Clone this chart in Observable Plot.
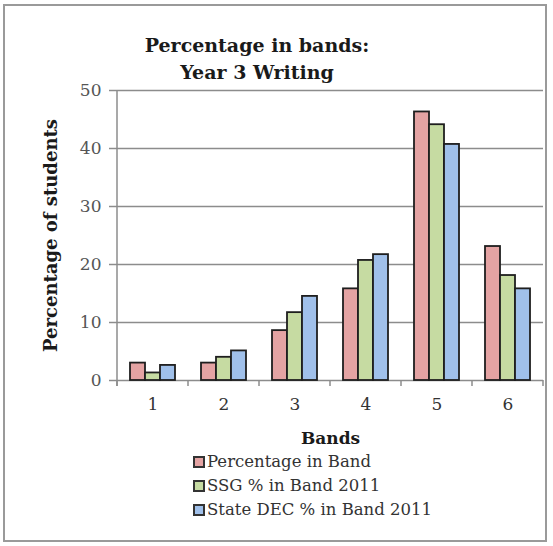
<!DOCTYPE html>
<html>
<head>
<meta charset="utf-8">
<script src="https://cdn.jsdelivr.net/npm/d3@7"></script>
<script src="https://cdn.jsdelivr.net/npm/@observablehq/plot@0.6"></script>
<style>
  html, body { margin: 0; padding: 0; background: #fff; }
  #wrap { position: relative; width: 553px; height: 546px; overflow: hidden; font-family: "DejaVu Serif", serif; }
  #border { position: absolute; left: 3px; top: 4px; width: 544px; height: 538px; border: 2px solid #9a9a9a; box-sizing: border-box; }
  #title { position: absolute; left: 0; top: 32px; width: 514px; text-align: center; font-weight: bold; font-size: 19px; line-height: 27px; color: #1a1a1a; }
  #chart { position: absolute; left: 0; top: 0; }
  #legend { position: absolute; left: 193px; top: 450px; font-size: 16.5px; line-height: 24px; color: #333; }
  .item { display: flex; align-items: center; white-space: nowrap; }
  .sw { width: 8px; height: 8px; border: 2px solid #333; margin-right: 2px; }
</style>
</head>
<body>
<div id="wrap">
  <div id="border"></div>
  <div id="title">Percentage in bands:<br>Year 3 Writing</div>
  <div id="chart"></div>
  <div id="legend"></div>
</div>
<script>
const bands = ["1", "2", "3", "4", "5", "6"];
const seriesNames = ["Percentage in Band", "SSG % in Band 2011", "State DEC % in Band 2011"];
const pctInBand = [3.0, 3.0, 8.6, 15.8, 46.3, 23.1];
const ssgInBand = [1.3, 4.0, 11.7, 20.7, 44.1, 18.1];
const stateDecInBand = [2.6, 5.1, 14.5, 21.7, 40.7, 15.8];
const yTicks = [0, 10, 20, 30, 40, 50];
const seriesColors = ["#e4a3a3", "#c6dba2", "#a0c0ea"];

const seriesValues = [pctInBand, ssgInBand, stateDecInBand];
const data = [];
bands.forEach((b, i) => {
  seriesNames.forEach((s, j) => data.push({band: b, series: s, value: seriesValues[j][i]}));
});

const plot = Plot.plot({
  width: 553,
  height: 546,
  marginTop: 90,
  marginBottom: 166,
  marginLeft: 117,
  marginRight: 10,
  style: {fontFamily: "DejaVu Serif, serif", background: "transparent"},
  fx: {domain: bands, padding: 0, axis: null},
  x: {domain: seriesNames, paddingInner: 0, paddingOuter: 0.72, axis: null},
  y: {domain: [0, 50], axis: null},
  color: {domain: seriesNames, range: seriesColors},
  marks: [
    Plot.gridY(yTicks, {stroke: "#8c8c8c", strokeOpacity: 1, strokeWidth: 1.5}),
    Plot.barY(data, {fx: "band", x: "series", y: "value", fill: "series", stroke: "#1e1e1e", strokeWidth: 1.8}),
    Plot.axisY(yTicks, {
      anchor: "left", tickSize: 8, tickPadding: 8, stroke: "#8c8c8c", strokeWidth: 1.5,
      fontSize: 17, fill: "#555", tickFormat: d => String(d),
      label: "Percentage of students", labelArrow: false, labelAnchor: "center", labelOffset: 73
    }),
    Plot.axisFx({
      anchor: "bottom", tickSize: 0, tickPadding: 17, fontSize: 17, fill: "#333",
      label: "Bands", labelArrow: false, labelAnchor: "center", labelOffset: 63
    })
  ]
});

document.getElementById("chart").appendChild(plot);

// y axis line and x-axis boundary ticks derived from the plot's scales
const svg = d3.select(plot);
const fx = plot.scale("fx");
const y = plot.scale("y");
const x0 = fx.apply(bands[0]);
const y0 = y.apply(0), y50 = y.apply(50);
const g = svg.append("g").attr("stroke", "#8c8c8c").attr("stroke-width", 1.5);
g.append("line").attr("x1", x0).attr("x2", x0).attr("y1", y50).attr("y2", y0 + 6);
const bounds = bands.map(b => fx.apply(b)).concat([fx.apply(bands[bands.length - 1]) + fx.bandwidth]);
bounds.forEach(bx => g.append("line").attr("x1", bx).attr("x2", bx).attr("y1", y0).attr("y2", y0 + 6));

// style axis labels (bold, no arrow)
svg.selectAll("text").each(function() {
  const t = d3.select(this);
  const txt = t.text();
  if (txt.startsWith("Percentage of students") || txt.startsWith("Bands")) {
    const clean = txt.replace(/\s*[→↑←↓]\s*/g, "").trim();
    t.selectAll("*").remove();
    t.text(clean).attr("font-weight", "bold").attr("fill", "#1a1a1a")
      .attr("font-size", clean === "Bands" ? 17 : 18);
  }
});

const legend = document.getElementById("legend");
seriesNames.forEach((s, i) => {
  const item = document.createElement("div");
  item.className = "item";
  const sw = document.createElement("span");
  sw.className = "sw";
  sw.style.background = seriesColors[i];
  const lab = document.createElement("span");
  lab.textContent = s;
  item.appendChild(sw);
  item.appendChild(lab);
  legend.appendChild(item);
});
</script>
</body>
</html>
